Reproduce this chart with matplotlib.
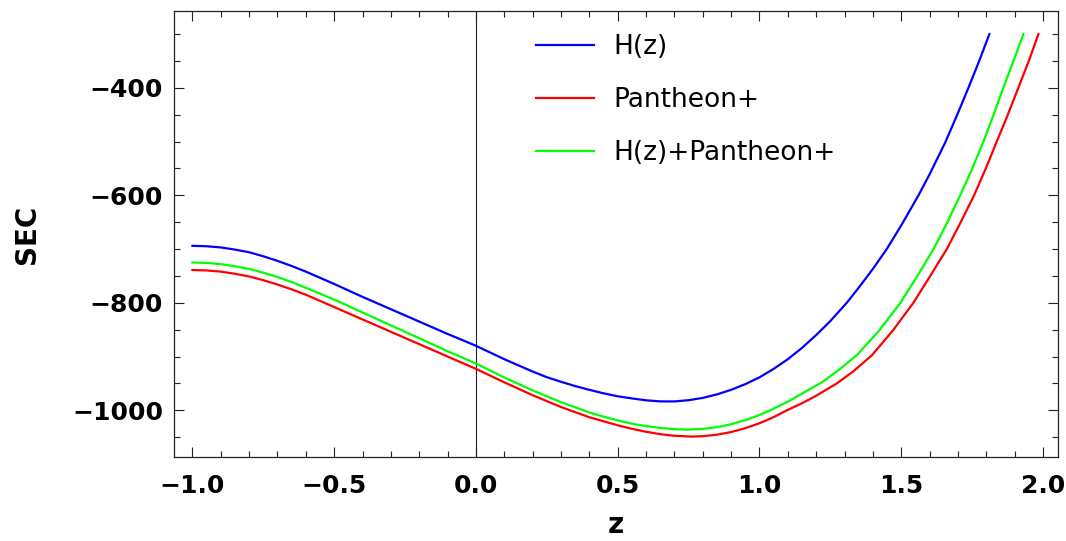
import matplotlib
matplotlib.use("Agg")
import matplotlib.pyplot as plt
from matplotlib.ticker import MultipleLocator

# H(z)
z_hz = [-1.0, -0.95, -0.9, -0.85, -0.8, -0.75, -0.7, -0.65, -0.6, -0.5, -0.4, -0.3, -0.2, -0.1,
        0.0, 0.1, 0.2, 0.25, 0.3, 0.35, 0.4, 0.45, 0.5, 0.55, 0.6, 0.65, 0.7, 0.75, 0.8, 0.85,
        0.9, 0.95, 1.0, 1.05, 1.1, 1.15, 1.2, 1.25, 1.308, 1.35, 1.4, 1.449, 1.5, 1.561, 1.6,
        1.655, 1.7, 1.737, 1.775, 1.811]
sec_hz = [-694, -694.8, -697, -701, -706, -713.5, -722, -731.5, -742, -765, -789, -812, -835,
          -858, -880, -905, -928, -938.5, -947, -955, -962, -968.5, -974, -978, -981.5, -983.5,
          -983.6, -981.3, -977, -970.5, -962, -951.4, -938.8, -923, -905, -884, -860, -834,
          -800, -772, -737, -700, -656, -600, -561, -502, -447, -400, -350, -300]

# Pantheon+
z_pp = [-1.0, -0.95, -0.9, -0.85, -0.8, -0.75, -0.7, -0.65, -0.6, -0.5, -0.4, -0.3, -0.2, -0.1,
        0.0, 0.1, 0.2, 0.3, 0.4, 0.5, 0.55, 0.6, 0.65, 0.7, 0.76, 0.8, 0.85, 0.9, 0.95, 1.0,
        1.05, 1.097, 1.15, 1.2, 1.273, 1.33, 1.396, 1.47, 1.543, 1.6, 1.661, 1.71, 1.757, 1.8,
        1.837, 1.876, 1.913, 1.95, 1.984]
sec_pp = [-739, -739.8, -742, -746, -751, -758, -766, -775, -785, -808, -831, -854, -877, -900,
          -923, -948, -972, -994, -1013, -1028, -1034.5, -1040, -1044.5, -1047.5, -1049,
          -1048.3, -1045.5, -1040.6, -1033.4, -1024.2, -1012.8, -1000, -987, -973, -950, -928,
          -898, -852, -800, -752, -700, -650, -600, -548, -500, -450, -400, -350, -300]

# H(z)+Pantheon+
z_comb = [-1.0, -0.95, -0.9, -0.85, -0.8, -0.75, -0.7, -0.65, -0.6, -0.5, -0.4, -0.3, -0.2,
          -0.1, 0.0, 0.1, 0.2, 0.3, 0.4, 0.45, 0.5, 0.55, 0.6, 0.65, 0.7, 0.745, 0.8, 0.85, 0.9,
          0.95, 1.0, 1.038, 1.1, 1.15, 1.22, 1.28, 1.344, 1.42, 1.496, 1.555, 1.614, 1.66,
          1.708, 1.75, 1.79, 1.826, 1.86, 1.896, 1.931]
sec_comb = [-725, -725.8, -728, -732, -737, -744, -752, -761.5, -772, -794, -818, -842, -866,
            -890, -913, -939, -963, -985, -1004, -1012, -1019, -1025, -1029.5, -1033, -1035.2,
            -1036, -1034.7, -1031.4, -1026, -1018.4, -1008.8, -1000, -984, -969, -948, -925,
            -897, -853, -801, -752, -700, -653, -600, -551, -500, -450, -400, -350, -300]

labels = ["H(z)", "Pantheon+", "H(z)+Pantheon+"]
colors = ["#0000ff", "#ff0000", "#00ff00"]

fig = plt.figure(figsize=(10.66, 5.41), dpi=100)
ax = fig.add_axes([174/1066, 1-457/541, 884/1066, 446/541])

ax.plot(z_hz, sec_hz, color=colors[0], lw=1.6, label=labels[0])
ax.plot(z_pp, sec_pp, color=colors[1], lw=1.6, label=labels[1])
ax.plot(z_comb, sec_comb, color=colors[2], lw=1.6, label=labels[2])
ax.axvline(0, color="#222222", lw=0.8, zorder=0)

ax.set_xlim(-1.065, 2.053)
ax.set_ylim(-1087, -257)

ax.xaxis.set_major_locator(MultipleLocator(0.5))
ax.xaxis.set_minor_locator(MultipleLocator(0.1))
ax.yaxis.set_major_locator(MultipleLocator(200))
ax.yaxis.set_minor_locator(MultipleLocator(50))

ax.tick_params(which="both", direction="in", top=True, right=True, color="#222222", width=0.8)
ax.tick_params(which="major", length=7)
ax.tick_params(which="minor", length=4)
ax.tick_params(axis="x", which="major", pad=12)
ax.tick_params(axis="y", which="major", pad=8)
for lab in ax.get_xticklabels() + ax.get_yticklabels():
    lab.set_fontfamily("DejaVu Sans")
    lab.set_fontweight("bold")
    lab.set_fontsize(18)
for sp in ax.spines.values():
    sp.set_color("#222222")
    sp.set_linewidth(0.9)

ax.set_xlabel("z", fontsize=20, fontweight="bold", va="center")
ax.set_ylabel("SEC", fontsize=20, fontweight="bold", va="center")
ax.xaxis.set_label_coords(0.5, (457-525)/446)
ax.yaxis.set_label_coords((27-174)/884, 0.5)

leg = ax.legend(loc="upper left", bbox_to_anchor=((536-174)/884, 1-(34-11)/446),
                frameon=False, fontsize=19, handlelength=2.2, handletextpad=0.72,
                labelspacing=1.02, borderpad=0, borderaxespad=0)
for line in leg.get_lines():
    line.set_linewidth(1.6)

fig.savefig("out.png", dpi=100)
